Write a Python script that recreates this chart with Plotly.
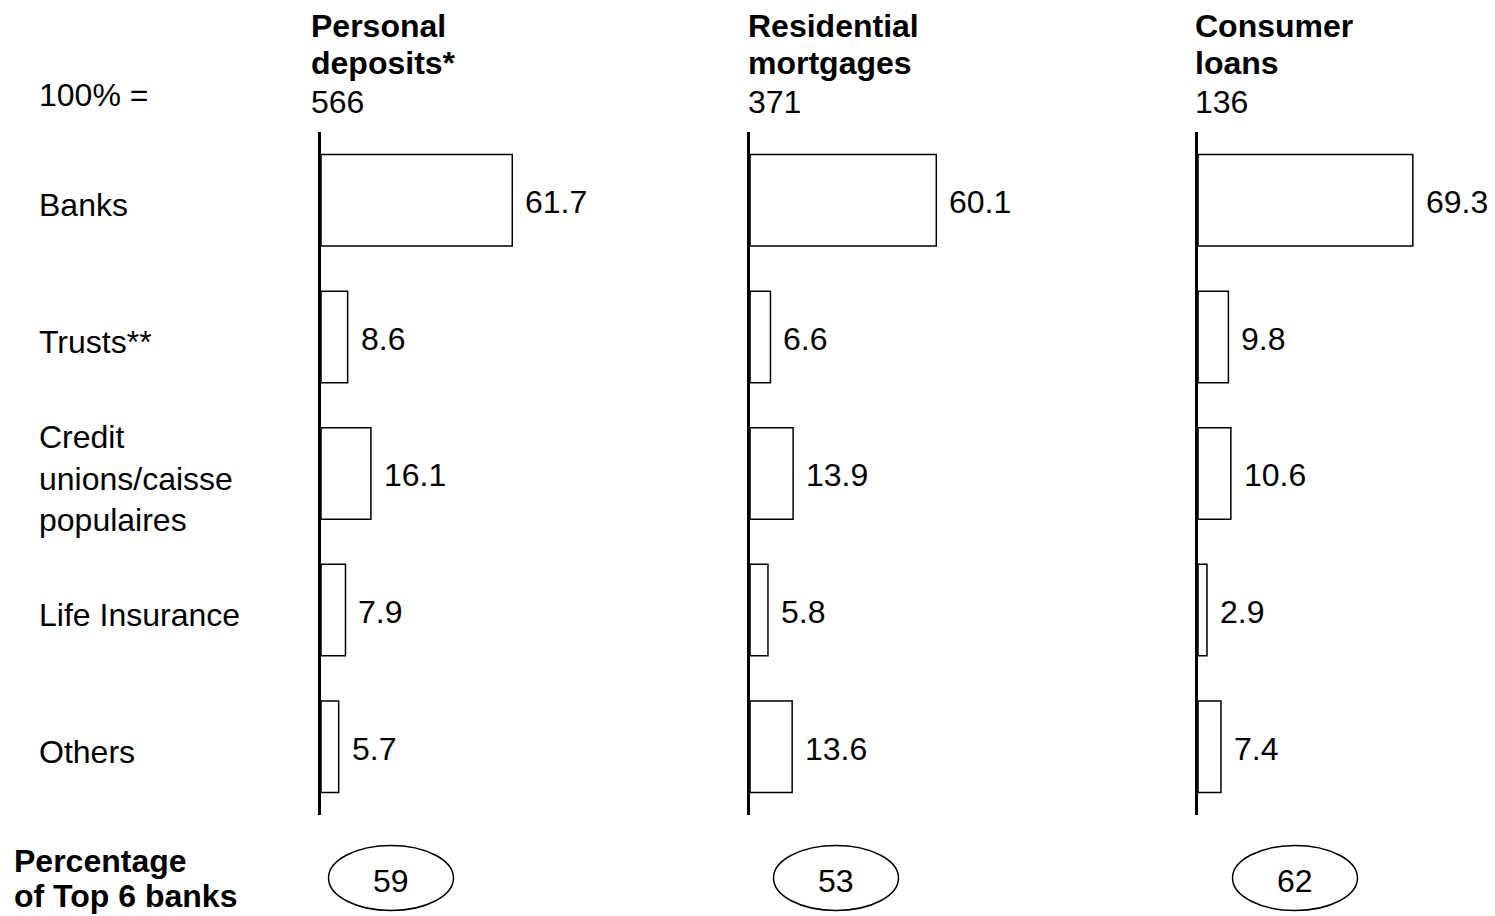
import plotly.graph_objects as go

# ---------------- data ----------------
categories = ["Banks", "Trusts**", "Credit<br>unions/caisse<br>populaires", "Life Insurance", "Others"]
panel_title_line1 = ["Personal", "Residential", "Consumer"]
panel_title_line2 = ["deposits*", "mortgages", "loans"]
panel_totals = ["566", "371", "136"]
personal_deposits = [61.7, 8.6, 16.1, 7.9, 5.7]
residential_mortgages = [60.1, 6.6, 13.9, 5.8, 13.6]
consumer_loans = [69.3, 9.8, 10.6, 2.9, 7.4]
top6_share = [59, 53, 62]

series = [personal_deposits, residential_mortgages, consumer_loans]

# ---------------- layout geometry (window pixels) ----------------
WIN_W, WIN_H = 1495, 916
OFF = 8                              # default page body margin
W, H = WIN_W - OFF, WIN_H - OFF
axis_px = [321, 750, 1198]          # axis line of each panel
px_per_unit = 3.1
x_max = 75
plot_top_px, plot_bot_px = 132, 815
ellipse_cx = [391, 836, 1295]
ellipse_cy, ellipse_w, ellipse_h = 878, 125, 65
header_x_px = [309, 746, 1193]

FONT = "Liberation Sans, Arial, sans-serif"
FS = 32


def px_x(p):
    return (p - OFF) / W


def px_y(p):
    return 1 - (p - OFF) / H


fig = go.Figure()
layout_axes = {}
annotations = []
shapes = []

y_dom = [px_y(plot_bot_px), px_y(plot_top_px)]


def text_ann(x, y, text, **kw):
    d = dict(x=x, y=y, xref="paper", yref="paper", text=text, showarrow=False,
             xanchor="left", yanchor="middle", align="left",
             font=dict(size=FS, color="black", family=FONT))
    d.update(kw)
    return d


for i, vals in enumerate(series):
    n = "" if i == 0 else str(i + 1)
    xa, ya = "x" + n, "y" + n
    fig.add_trace(go.Bar(
        x=vals, y=categories, orientation="h",
        xaxis=xa, yaxis=ya,
        marker=dict(color="white", line=dict(color="black", width=1.5)),
        width=0.67, showlegend=False, hoverinfo="x+y",
    ))
    x0 = px_x(axis_px[i])
    x1 = px_x(axis_px[i] + px_per_unit * x_max)
    layout_axes["xaxis" + n] = dict(domain=[x0, x1], range=[0, x_max], visible=False,
                                    anchor=ya, fixedrange=True)
    layout_axes["yaxis" + n] = dict(domain=y_dom, anchor=xa, type="category",
                                    categoryorder="array", categoryarray=categories,
                                    range=[len(categories) - 0.5, -0.5],
                                    showline=True, linewidth=3, linecolor="black",
                                    showticklabels=False, ticks="", showgrid=False,
                                    zeroline=False, fixedrange=True)
    # value labels
    for c, v in zip(categories, vals):
        annotations.append(dict(x=v, y=c, xref=xa, yref=ya, text=f"{v:.1f}",
                                showarrow=False, xanchor="left", yanchor="middle",
                                xshift=11, yshift=-2,
                                font=dict(size=FS, color="black", family=FONT)))
    # header
    hx = px_x(header_x_px[i])
    annotations.append(text_ann(hx, px_y(26), f"<b>{panel_title_line1[i]}</b>"))
    annotations.append(text_ann(hx, px_y(63), f"<b>{panel_title_line2[i]}</b>"))
    annotations.append(text_ann(hx, px_y(102), panel_totals[i]))
    # ellipse with top-6 share
    shapes.append(dict(type="circle", xref="paper", yref="paper",
                       x0=px_x(ellipse_cx[i] - ellipse_w / 2), x1=px_x(ellipse_cx[i] + ellipse_w / 2),
                       y0=px_y(ellipse_cy + ellipse_h / 2), y1=px_y(ellipse_cy - ellipse_h / 2),
                       line=dict(color="black", width=1.5), fillcolor="rgba(0,0,0,0)"))
    annotations.append(text_ann(px_x(ellipse_cx[i]), px_y(ellipse_cy + 3), str(top6_share[i]),
                                xanchor="center", align="center"))

# category labels on the left
for c in categories:
    annotations.append(dict(x=px_x(37), y=c, xref="paper", yref="y", text=c,
                            showarrow=False, xanchor="left", yanchor="middle", align="left",
                            yshift=-5,
                            font=dict(size=FS, color="black", family=FONT)))

annotations.append(text_ann(px_x(37), px_y(95), "100% ="))
annotations.append(text_ann(px_x(12), px_y(861), "<b>Percentage</b>"))
annotations.append(text_ann(px_x(12), px_y(896), "<b>of Top 6 banks</b>"))

fig.update_layout(
    width=W, height=H,
    margin=dict(l=0, r=0, t=0, b=0),
    paper_bgcolor="white", plot_bgcolor="white",
    font=dict(family=FONT, size=FS, color="black"),
    annotations=annotations, shapes=shapes,
    bargap=0.33,
    **layout_axes,
)

fig.write_html("out.html")
